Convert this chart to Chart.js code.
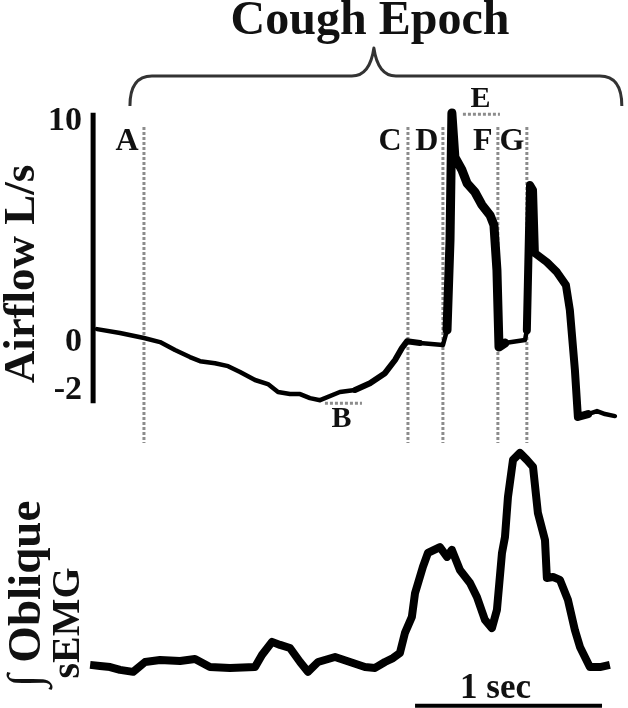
<!DOCTYPE html>
<html>
<head>
<meta charset="utf-8">
<script src="https://cdn.jsdelivr.net/npm/chart.js@4/dist/chart.umd.min.js"></script>
<style>
  html, body { margin: 0; padding: 0; background: #ffffff; }
  #wrap { width: 628px; height: 708px; }
</style>
</head>
<body>
<div id="wrap"><canvas id="c" width="628" height="708"></canvas></div>
<script>
// ---- Airflow trace (time in s, airflow in L/s) ----
const airTime = [0, 0.123, 0.251, 0.337, 0.417, 0.497, 0.551, 0.631, 0.701, 0.765, 0.845, 0.914, 0.968, 1.032, 1.086, 1.139, 1.193, 1.299, 1.380, 1.460, 1.540, 1.594, 1.631, 1.658, 1.727, 1.850, 1.872, 1.888, 1.898, 1.914, 1.952, 1.979, 2.021, 2.059, 2.102, 2.123, 2.139, 2.150, 2.182, 2.289, 2.299, 2.316, 2.332, 2.342, 2.406, 2.460, 2.508, 2.529, 2.556, 2.572, 2.626, 2.674, 2.717, 2.770];
const airFlow = [0.57, 0.40, 0.18, 0.00, -0.35, -0.66, -0.84, -0.93, -1.06, -1.32, -1.67, -1.85, -2.20, -2.29, -2.29, -2.47, -2.56, -2.20, -2.11, -1.81, -1.37, -0.79, -0.26, 0.04, -0.04, -0.13, 0.53, 4.49, 10.09, 8.15, 7.58, 7.00, 6.61, 6.04, 5.59, 5.15, 3.17, -0.22, -0.04, 0.09, 0.53, 6.92, 6.70, 3.92, 3.52, 3.08, 2.51, 1.41, -1.23, -3.30, -3.17, -3.04, -3.17, -3.26];

// ---- Integrated oblique sEMG (time in s, arbitrary units) ----
const semgTime = [-0.037, 0.016, 0.070, 0.123, 0.193, 0.257, 0.337, 0.444, 0.524, 0.604, 0.711, 0.845, 0.882, 0.936, 0.979, 1.032, 1.086, 1.128, 1.182, 1.273, 1.353, 1.433, 1.487, 1.540, 1.583, 1.620, 1.647, 1.684, 1.701, 1.743, 1.770, 1.834, 1.872, 1.898, 1.941, 1.995, 2.032, 2.075, 2.112, 2.139, 2.166, 2.182, 2.198, 2.225, 2.262, 2.299, 2.332, 2.358, 2.396, 2.406, 2.439, 2.476, 2.519, 2.556, 2.583, 2.636, 2.690, 2.743];
const semgValue = [3.7, 3.2, 2.7, 1.4, 0.5, 5.0, 5.9, 5.5, 6.4, 2.7, 2.3, 2.7, 8.2, 14.2, 12.8, 11.4, 5.0, 0.5, 5.0, 7.3, 5.0, 2.7, 2.3, 5.0, 6.8, 9.1, 18.3, 25.6, 36.5, 48.4, 54.8, 57.5, 53.0, 56.2, 47.0, 41.1, 34.7, 24.2, 20.5, 28.8, 54.8, 62.1, 80.4, 97.3, 100.5, 97.3, 94.1, 73.1, 60.7, 43.4, 43.8, 42.5, 33.3, 19.6, 11.9, 2.7, 2.7, 3.7];

// ---- Event markers (time in s) ----
const markerLabels = ['A', 'C', 'D', 'F', 'G'];
const markerTimes  = [0.251, 1.663, 1.850, 2.144, 2.299];
const markerSpan   = [9.47, -4.45];            // airflow units
const peakE = { label: 'E', from: 1.957, to: 2.155, value: 10.04 };
const troughB = { label: 'B', from: 1.219, to: 1.417, value: -2.69 };

// ---- Airflow axis ----
const airTickValues = [10, 0, -2];
const airTickLabels = ['10', '0', '-2'];
const airAxisSpan = [10.1, -2.7];
const airAxisTime = -0.021;

// ---- Cough epoch & time scale bar ----
const coughEpoch = [0.176, 2.807];
const scaleBarTime = [1.701, 2.701];
const scaleBarLevel = -15.0;   // sEMG units

const INK = '#000000';
const DOT = '#8c8c8c';
const SERIF = '"Liberation Serif", "Times New Roman", serif';

function thickAirflow(t) {
  if (t >= 1.30 && t < 1.66) return 6;
  if (t >= 1.86 && t < 2.155) return 9;
  if (t >= 2.295 && t < 2.58) return 8;
  return 4.5;
}

const datasets = [
  {
    label: 'Airflow', yAxisID: 'yAir',
    data: airTime.map((t, i) => ({ x: t, y: airFlow[i] })),
    borderColor: INK, borderWidth: 4.5, pointRadius: 0, tension: 0,
    borderJoinStyle: 'round', borderCapStyle: 'round',
    segment: { borderWidth: c => thickAirflow(c.p0.parsed.x) }
  },
  {
    label: 'sEMG', yAxisID: 'ySemg',
    data: semgTime.map((t, i) => ({ x: t, y: semgValue[i] })),
    borderColor: INK, borderWidth: 8, pointRadius: 0, tension: 0,
    borderJoinStyle: 'round', borderCapStyle: 'butt'
  }
];
markerTimes.forEach((t, i) => {
  datasets.push({
    label: 'marker ' + markerLabels[i], yAxisID: 'yAir',
    data: [{ x: t, y: markerSpan[0] }, { x: t, y: markerSpan[1] }],
    borderColor: DOT, borderWidth: 3, borderDash: [3, 2], pointRadius: 0
  });
});
[peakE, troughB].forEach(m => {
  datasets.push({
    label: 'marker ' + m.label, yAxisID: 'yAir',
    data: [{ x: m.from, y: m.value }, { x: m.to, y: m.value }],
    borderColor: DOT, borderWidth: 3, borderDash: [3, 2], pointRadius: 0
  });
});
datasets.push({
  label: 'axis', yAxisID: 'yAir',
  data: [{ x: airAxisTime, y: airAxisSpan[0] }, { x: airAxisTime, y: airAxisSpan[1] }],
  borderColor: INK, borderWidth: 5, pointRadius: 0, borderCapStyle: 'butt'
});
datasets.push({
  label: 'scale bar', yAxisID: 'ySemg',
  data: [{ x: scaleBarTime[0], y: scaleBarLevel }, { x: scaleBarTime[1], y: scaleBarLevel }],
  borderColor: INK, borderWidth: 4, pointRadius: 0, borderCapStyle: 'butt'
});

function txt(ctx, s, x, y, size, opt) {
  opt = opt || {};
  ctx.save();
  ctx.translate(x, y);
  if (opt.sy) ctx.scale(1, opt.sy);
  if (opt.rot) ctx.rotate(opt.rot);
  ctx.font = 'bold ' + size + 'px ' + SERIF;
  ctx.fillStyle = opt.color || '#111111';
  ctx.textAlign = opt.align || 'center';
  ctx.textBaseline = opt.base || 'middle';
  ctx.fillText(s, 0, 0);
  ctx.restore();
}

const annot = {
  id: 'annot',
  afterDatasetsDraw(chart) {
    const ctx = chart.ctx;
    const xs = chart.scales.x, ya = chart.scales.yAir, ys = chart.scales.ySemg;

    // Cough epoch brace
    const x0 = xs.getPixelForValue(coughEpoch[0]);
    const x1 = xs.getPixelForValue(coughEpoch[1]);
    const xm = (x0 + x1) / 2 - 2;
    const yb = 106, yl = 76, yt = 48;
    ctx.save();
    ctx.strokeStyle = '#333333';
    ctx.lineWidth = 3;
    ctx.lineJoin = 'round';
    ctx.beginPath();
    ctx.moveTo(x0, yb);
    ctx.quadraticCurveTo(x0, yl, x0 + 22, yl);
    ctx.lineTo(xm - 22, yl);
    ctx.quadraticCurveTo(xm - 4, yl, xm, yt);
    ctx.quadraticCurveTo(xm + 4, yl, xm + 22, yl);
    ctx.lineTo(x1 - 22, yl);
    ctx.quadraticCurveTo(x1, yl, x1, yb);
    ctx.stroke();
    ctx.restore();
    txt(ctx, 'Cough Epoch', 370, 34, 48, { base: 'alphabetic' });

    // Airflow tick labels
    const axX = xs.getPixelForValue(airAxisTime);
    airTickValues.forEach((v, i) => {
      let py = ya.getPixelForValue(v);
      if (v === 10) py += 6;
      if (v === -2) py += 3;
      txt(ctx, airTickLabels[i], axX - 11, py, 34, { align: 'right' });
    });

    // Y titles
    txt(ctx, 'Airflow L/s', 22, 274, 45, { rot: -Math.PI / 2 });
    txt(ctx, '\u222B Oblique', 28, 594, 47, { rot: -Math.PI / 2 });
    txt(ctx, 'sEMG', 69, 623, 40, { rot: -Math.PI / 2 });

    // Marker labels
    const labelDx = { A: -17, C: -18, D: -16, F: -15, G: -15 };
    markerTimes.forEach((t, i) => {
      const lab = markerLabels[i];
      const px = xs.getPixelForValue(t) + labelDx[lab];
      txt(ctx, lab, px, ya.getPixelForValue(markerSpan[0]) + 15, 32);
    });
    txt(ctx, peakE.label, (xs.getPixelForValue(peakE.from) + xs.getPixelForValue(peakE.to)) / 2 - 1,
        ya.getPixelForValue(peakE.value) - 15, 30);
    txt(ctx, troughB.label, (xs.getPixelForValue(troughB.from) + xs.getPixelForValue(troughB.to)) / 2 - 2,
        ya.getPixelForValue(troughB.value) + 16, 30);

    // Scale bar label
    txt(ctx, '1 sec', (xs.getPixelForValue(scaleBarTime[0]) + xs.getPixelForValue(scaleBarTime[1])) / 2 - 13,
        ys.getPixelForValue(scaleBarLevel) - 8, 35, { base: 'alphabetic' });
  }
};

new Chart(document.getElementById('c'), {
  type: 'line',
  data: { datasets },
  options: {
    responsive: false,
    animation: false,
    devicePixelRatio: 1,
    layout: { padding: 0 },
    plugins: { legend: { display: false }, tooltip: { enabled: false } },
    scales: {
      x: { type: 'linear', display: false, min: -0.519, max: 2.840 },
      yAir: { type: 'linear', display: false, min: -16.12, max: 15.07 },
      ySemg: { type: 'linear', display: false, min: -16.0, max: 307.3 }
    }
  },
  plugins: [annot]
});
</script>
</body>
</html>
